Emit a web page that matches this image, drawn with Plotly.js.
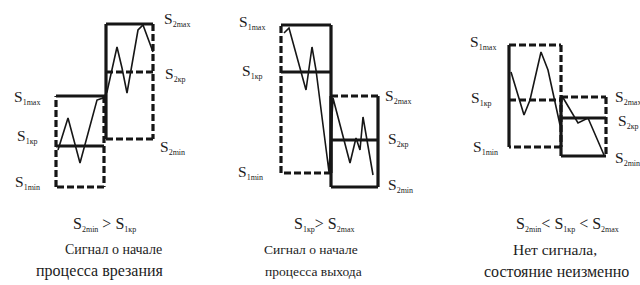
<!DOCTYPE html>
<html><head><meta charset="utf-8">
<script src="https://cdn.plot.ly/plotly-3.0.1.min.js"></script>
<style>html,body{margin:0;padding:0;background:#fff}#chart{width:640px;height:285px}</style>
</head><body><div id="chart"></div>
<script>
// Boxes (diagram units): two ranges per panel
const boxX0 = [56, 106, 281, 331, 509, 561];
const boxX1 = [104, 153, 331, 378, 561, 606];
const boxTop = [96, 24, 25, 96, 45, 97];
const boxBottom = [187, 139, 173, 187, 147, 156];
// critical levels S1кр / S2кр
const levelY = [146, 72, 72, 140, 100, 118];
// edge dash [top, right, bottom, left]
const boxEdgeDash = [
  ['solid','dash','dash','dash'],
  ['solid','dash','dash','solid'],
  ['solid','solid','dash','dash'],
  ['dash','solid','solid','solid'],
  ['dash','dash','dash','solid'],
  ['dash','dash','solid','solid']
];
const levelDash = ['solid','dash','solid','solid','dash','solid'];

// signal zigzags
const zigX1 = [58, 68, 80, 97, 103, 107, 117, 122, 127, 138, 143, 153];
const zigY1 = [150, 118, 163, 100, 98, 92, 47, 68, 93, 30, 25, 52];
const zigX2 = [284, 289, 306, 312, 316, 329, 333, 350, 356, 360, 363, 373];
const zigY2 = [33, 28, 90, 47, 70, 172, 98, 163, 138, 150, 117, 175];
const zigX3 = [511, 524, 530, 541, 548, 560, 562, 578, 588, 604];
const zigY3 = [72, 115, 100, 52, 70, 125, 96, 123, 118, 155];

// level labels (subscript parts)
const labelSub = ['1max','1кр','1min','2max','2кр','2min',
  '1max','1кр','1min','2max','2кр','2min',
  '1max','1кр','1min','2max','2кр','2min'];
const labelX = [12, 15, 13, 162, 163, 158, 237, 240, 236, 383, 386, 386, 468, 469, 471, 613, 616, 613];
const labelY = [97, 136, 182, 19, 74, 147, 22, 71, 172, 96, 139, 185, 42, 98, 147, 97, 121, 158];

// captions: condition = [sub, op, sub, (op, sub)]
const condParts = [['2min',' > ','1кр'], ['1кр','> ','2max'], ['2min','< ','1кр',' < ','2max']];
const condX = [104, 324, 567];
const capLine1 = ['Сигнал о начале','Сигнал о начале','Нет сигнала,'];
const capLine2 = ['процесса врезания','процесса выхода','состояние неизменно'];
const capX1 = [113, 311, 555];
const capX2 = [100, 313, 556];
const cap1Size = [14, 13.5, 15.5];
const cap2Size = [16, 13.5, 16];

const ink = '#161616';
const S = sub => 'S<sub><span style="font-size:8px">' + sub + '</span></sub>';
const traces = [];
for (let i = 0; i < boxX0.length; i++) {
  const x0 = boxX0[i], x1 = boxX1[i], t = boxTop[i], b = boxBottom[i];
  const edges = [[[x0,x1],[t,t]], [[x1,x1],[t,b]], [[x1,x0],[b,b]], [[x0,x0],[b,t]]];
  edges.forEach((e, k) => {
    const d = boxEdgeDash[i][k] === 'dash' ? '7px,3px' : 'solid';
    traces.push({x: e[0], y: e[1], mode: 'lines', line: {color: ink, width: 3.2, dash: d}, hoverinfo: 'skip'});
  });
  traces.push({x: [x0, x1], y: [levelY[i], levelY[i]], mode: 'lines',
    line: {color: ink, width: 3, dash: levelDash[i] === 'dash' ? '7px,3px' : 'solid'}, hoverinfo: 'skip'});
}
[[zigX1, zigY1], [zigX2, zigY2], [zigX3, zigY3]].forEach(z => {
  traces.push({x: z[0], y: z[1], mode: 'lines', line: {color: ink, width: 1.6}, hoverinfo: 'skip'});
});

const fam = '"Liberation Serif", "Times New Roman", "DejaVu Serif", serif';
const tc = '#1c1c1c';
const ann = [];
labelSub.forEach((t, i) => ann.push({x: labelX[i], y: labelY[i], xref: 'x', yref: 'y', text: S(t),
  showarrow: false, xanchor: 'left', yanchor: 'middle', font: {family: fam, size: 15.5, color: tc}}));
condParts.forEach((p, i) => {
  let txt = '';
  p.forEach((q, k) => { txt += (k % 2 === 0) ? S(q) : q; });
  ann.push({x: condX[i], y: 224, xref: 'x', yref: 'y', text: txt, showarrow: false, xanchor: 'center', yanchor: 'middle', font: {family: fam, size: 16, color: tc}});
  ann.push({x: capX1[i], y: 249, xref: 'x', yref: 'y', text: capLine1[i], showarrow: false, xanchor: 'center', yanchor: 'middle', font: {family: fam, size: cap1Size[i], color: tc}});
  ann.push({x: capX2[i], y: 271, xref: 'x', yref: 'y', text: capLine2[i], showarrow: false, xanchor: 'center', yanchor: 'middle', font: {family: fam, size: cap2Size[i], color: tc}});
});

const layout = {
  width: 640, height: 285, margin: {l: 0, r: 0, t: 0, b: 0},
  paper_bgcolor: '#fff', plot_bgcolor: '#fff', showlegend: false,
  font: {family: fam},
  xaxis: {range: [0, 640], visible: false, fixedrange: true},
  yaxis: {range: [285, 0], visible: false, fixedrange: true},
  annotations: ann
};
Plotly.newPlot('chart', traces, layout, {staticPlot: true, displayModeBar: false});
</script></body></html>
